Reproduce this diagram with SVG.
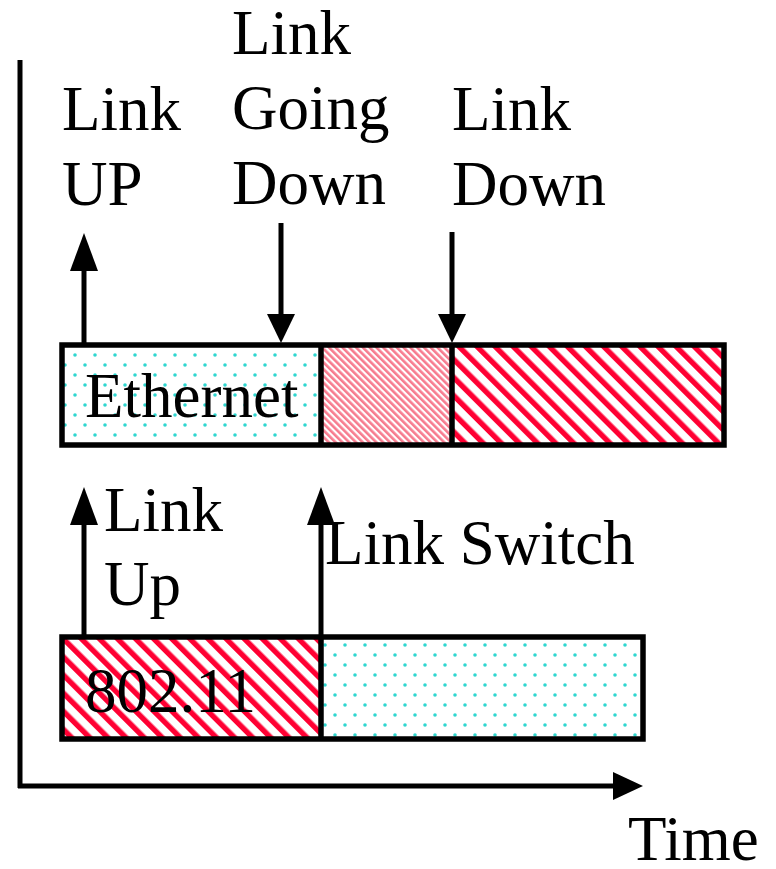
<svg xmlns="http://www.w3.org/2000/svg" width="776" height="869" viewBox="0 0 776 869">
<defs>
<style>
text{font-family:"Liberation Serif","Times New Roman",serif;font-size:63px;fill:#000}
.ln{stroke:#000;stroke-width:5;fill:none}
.box{stroke:#000;stroke-width:5.5}
.head{fill:#000}
</style>
<pattern id="dots" patternUnits="userSpaceOnUse" width="20" height="20" x="2" y="2">
<rect width="20" height="20" fill="#fff"/>
<circle cx="3" cy="3" r="1.8" fill="#2fd6d0"/>
<circle cx="13" cy="13" r="1.8" fill="#2fd6d0"/>
</pattern>
<pattern id="wide" patternUnits="userSpaceOnUse" width="12.8" height="12.8" patternTransform="rotate(-45)">
<rect width="12.8" height="12.8" fill="#fff"/>
<rect x="0" y="0" width="5.4" height="12.8" fill="#ff0033"/>
</pattern>
<pattern id="light" patternUnits="userSpaceOnUse" width="4.8" height="4.8" patternTransform="rotate(-45)">
<rect width="4.8" height="4.8" fill="#fff"/>
<rect x="0" y="0" width="2.6" height="4.8" fill="#f77b8e"/>
</pattern>
</defs>

<g id="axes">
<line class="ln" x1="20" y1="60" x2="20" y2="788" stroke-width="5.5"/>
<line class="ln" x1="18" y1="786" x2="616" y2="786" stroke-width="5.5"/>
<polygon class="head" points="613,772 643,786 613,800"/>
</g>

<g id="ethernet">
<rect x="62" y="345" width="259" height="100" fill="url(#dots)"/>
<rect x="321" y="345" width="131" height="100" fill="url(#light)"/>
<rect x="452" y="345" width="272" height="100" fill="url(#wide)"/>
<rect class="box" x="62" y="345" width="662" height="100" fill="none"/>
<line class="box" x1="321" y1="345" x2="321" y2="445"/>
<line class="box" x1="452" y1="345" x2="452" y2="445"/>
<text x="85" y="417">Ethernet</text>
</g>

<g id="wifi">
<rect x="62" y="637" width="259" height="102" fill="url(#wide)"/>
<rect x="321" y="637" width="322" height="102" fill="url(#dots)"/>
<rect class="box" x="62" y="637" width="581" height="102" fill="none"/>
<line class="box" x1="321" y1="637" x2="321" y2="739"/>
<text x="85" y="712">802.11</text>
</g>

<g id="label-link-up-top">
<text x="62" y="130">Link</text>
<text x="62" y="205">UP</text>
</g>
<g id="label-link-going-down">
<text x="232" y="54">Link</text>
<text x="232" y="129">Going</text>
<text x="232" y="204">Down</text>
</g>
<g id="label-link-down">
<text x="452" y="130">Link</text>
<text x="452" y="205">Down</text>
</g>
<g id="label-link-up-bottom">
<text x="104" y="531">Link</text>
<text x="104" y="605">Up</text>
</g>
<g id="label-link-switch">
<text x="325" y="564">Link Switch</text>
</g>
<g id="label-time">
<text x="628" y="860">Time</text>
</g>

<g id="connectors">
<line class="ln" x1="84" y1="268" x2="84" y2="345"/>
<polygon class="head" points="84,233 70,271 98,271"/>
<line class="ln" x1="281" y1="223" x2="281" y2="318"/>
<polygon class="head" points="267,314 295,314 281,343"/>
<line class="ln" x1="452" y1="232" x2="452" y2="318"/>
<polygon class="head" points="438,314 466,314 452,343"/>
<line class="ln" x1="84" y1="522" x2="84" y2="637"/>
<polygon class="head" points="84,487 70,525 98,525"/>
<line class="ln" x1="321" y1="522" x2="321" y2="637"/>
<polygon class="head" points="321,487 307,525 335,525"/>
</g>
</svg>
